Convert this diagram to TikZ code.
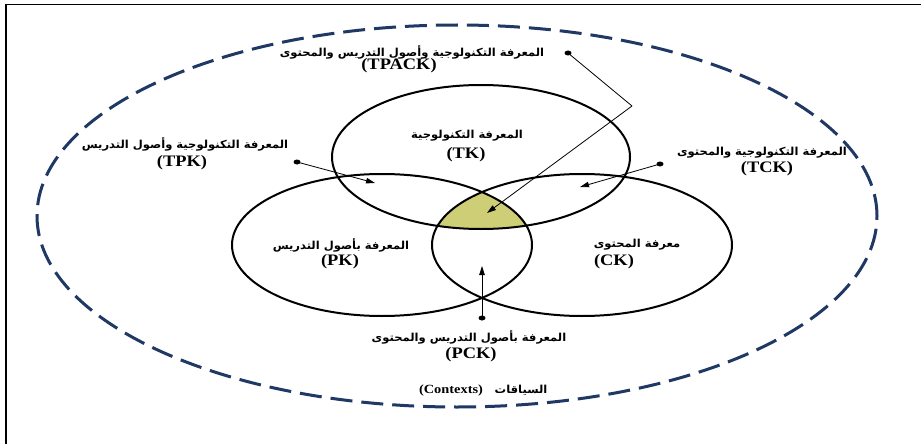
\documentclass[tikz,border=0pt]{standalone}
\usepackage{fontspec}
\usetikzlibrary{arrows.meta}
\TeXXeTstate=1
\newfontfamily\arabicfont[Script=Arabic]{DejaVu Sans}
\newfontfamily\latinfont{Liberation Serif}
\definecolor{navy}{RGB}{31,56,100}
\definecolor{khaki}{RGB}{206,206,118}
\tikzset{
  ar/.style={font=\arabicfont\bfseries\fontsize{11}{13}\selectfont, xscale=1.05, inner sep=0pt},
  la/.style={font=\latinfont\bfseries\fontsize{16}{18}\selectfont, xscale=1.15, inner sep=0pt},
  lasmall/.style={font=\latinfont\bfseries\fontsize{12.5}{14}\selectfont, xscale=1.15, inner sep=0pt},
  venn/.style={draw=black, line width=2pt},
  ctx/.style={draw=navy, line width=3pt, dash pattern=on 22pt off 9pt},
  pointer/.style={draw=black, line width=0.8pt, -{Triangle[length=9pt,width=5.5pt]}},
  tailline/.style={draw=black, line width=0.8pt},
  tdot/.style={ellipse, fill=black, inner sep=0pt, minimum width=7pt, minimum height=5pt}
}
\usetikzlibrary{shapes.geometric}
\begin{document}
\begin{tikzpicture}[x=1pt, y=-1pt]
\useasboundingbox (0,0) rectangle (921,444);
\fill[white] (0,0) rectangle (921,444);
% frame
\draw[line width=1.5pt] (6,444) -- (6,4.5) -- (921,4.5);
% contexts ellipse
\draw[ctx] (457,216) ellipse [x radius=420pt, y radius=191pt];
% yellow intersection
\begin{scope}
  \clip (382,245) ellipse [x radius=150pt, y radius=71pt];
  \clip (582,245) ellipse [x radius=150pt, y radius=71pt];
  \fill[khaki] (481,157) ellipse [x radius=149pt, y radius=72pt];
\end{scope}
% venn ellipses
\draw[venn] (481,157) ellipse [x radius=149pt, y radius=72pt];
\draw[venn] (382,245) ellipse [x radius=150pt, y radius=71pt];
\draw[venn] (582,245) ellipse [x radius=150pt, y radius=71pt];

% labels
\node[ar] (tpackA) at (412,52) {\beginR المعرفة التكنولوجية  وأصول التدريس والمحتوى\endR};
\node[la] (tpackL) at (399,66) {(TPACK)};
\node[ar] (tpkA) at (185,144) {\beginR المعرفة التكنولوجية وأصول التدريس\endR};
\node[la] (tpkL) at (182,163) {(TPK)};
\node[ar] (tckA) at (762,153) {\beginR المعرفة التكنولوجية والمحتوى\endR};
\node[la] (tckL) at (767,169) {(TCK)};
\node[ar] (tkA) at (467,136) {\beginR المعرفة التكنولوجية\endR};
\node[la] (tkL) at (466,155) {(TK)};
\node[ar] (pkA) at (341,245) {\beginR المعرفة بأصول التدريس\endR};
\node[la] (pkL) at (340,262) {(PK)};
\node[ar] (ckA) at (637,245) {\beginR معرفة المحتوى\endR};
\node[la] (ckL) at (614,262) {(CK)};
\node[ar] (pckA) at (469,337) {\beginR المعرفة بأصول التدريس والمحتوى\endR};
\node[la] (pckL) at (471,355) {(PCK)};
\node[lasmall] (ctxL) at (451,390) {(Contexts)};
\node[ar] (ctxA) at (521,390) {\beginR السياقات\endR};

% pointers
\node[tdot] (tpackDot) at (568,53) {};
\coordinate (tpackBend) at (632,106);
\coordinate (tpackTip) at (487,213);
\draw[tailline] (tpackDot.center) -- (tpackBend);
\draw[pointer] (tpackBend) -- (tpackTip);

\node[tdot] (tpkDot) at (297,162) {};
\coordinate (tpkTip) at (375,183);
\draw[pointer] (tpkDot.center) -- (tpkTip);

\node[tdot] (tckDot) at (660,164) {};
\coordinate (tckTip) at (580,187);
\draw[pointer] (tckDot.center) -- (tckTip);

\node[tdot] (pckDot) at (482,318) {};
\coordinate (pckTip) at (482,266);
\draw[pointer] (pckDot.center) -- (pckTip);
\end{tikzpicture}
\end{document}
